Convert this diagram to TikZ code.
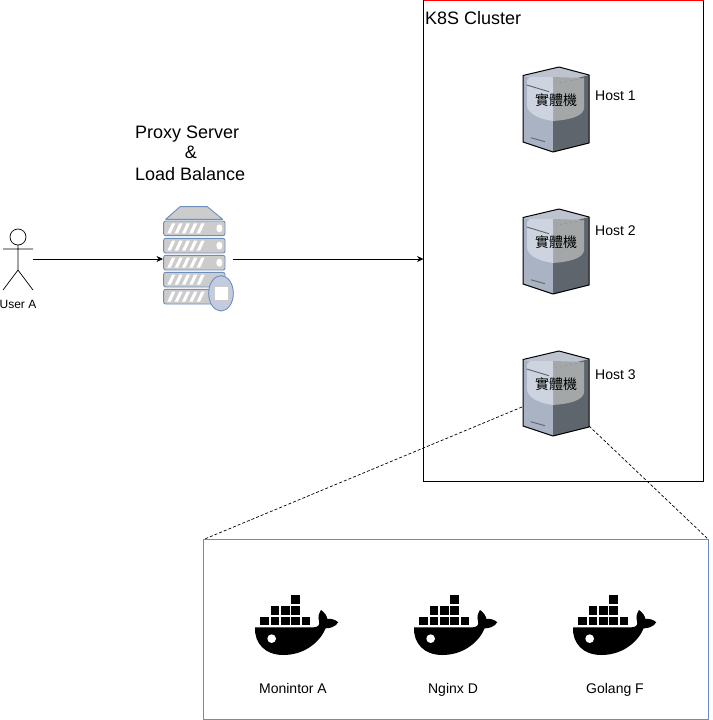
\documentclass[tikz,border=0pt]{standalone}
\usepackage{fontspec}
\usetikzlibrary{arrows.meta}
\setmainfont{Liberation Sans}
\newfontfamily\cjkfont{Noto Sans CJK TC}
\definecolor{edgeblue}{HTML}{6C8EBF}
\definecolor{barfill}{HTML}{CCCCCC}
\definecolor{hostleft}{HTML}{A9B3C4}
\definecolor{hosttop}{HTML}{BEC4CF}
\definecolor{hostright}{HTML}{5F656D}
\definecolor{hostlight}{HTML}{CDD3DF}
\definecolor{hostmid}{HTML}{A3A7A8}
\definecolor{badge}{HTML}{C3CCDF}
\tikzset{
  x=1pt,y=-1pt,
  anchorbox/.style={rectangle,draw=none,fill=none,inner sep=0pt,outer sep=0pt},
  framebox/.style={rectangle,draw=black,line width=0.6pt,inner sep=0pt,outer sep=0pt},
  label14/.style={font=\fontsize{14}{16}\selectfont,inner sep=0pt,anchor=base},
  labelhost/.style={font=\fontsize{14}{16}\selectfont,inner sep=0pt,anchor=base west},
  title18/.style={font=\fontsize{18}{20}\selectfont,inner sep=0pt},
  flow/.style={draw=black,line width=0.7pt,-{Stealth[length=6.5pt,width=6pt]}},
  zoomline/.style={draw=black,line width=0.7pt,dash pattern=on 3pt off 2pt},
  pics/hostserver/.style={code={
    \fill[hosttop] (0,8.5) -- (36,0) -- (66,8) -- (30,17) -- cycle;
    \fill[hostleft] (0,8.5) -- (30,17) -- (30,85) -- (0,75) -- cycle;
    \fill[hostright] (30,17) -- (66,8) -- (66,76) -- (30,85) -- cycle;
    \fill[hostmid] (30,17) -- (61,11) -- (61,42) .. controls (59,50) and (45,53) .. (30,54) -- cycle;
    \fill[hostlight] (7,10) -- (30,10) -- (30,54) .. controls (15,52) and (4,46) .. (4,38) -- (4,13) -- cycle;
    \fill[hostmid] (30,10) -- (61,11) -- (30,17) -- cycle;
    \draw[line width=1pt,black,line join=round] (0,8.5) -- (36,0) -- (66,8) -- (66,76) -- (30,85) -- (0,75) -- cycle;
    \draw[line width=0.9pt,hostright] (3.7,18) -- (26,24.7);
    \draw[line width=0.9pt,hostright] (7.7,70.7) -- (22,74.7);
    \node[inner sep=0pt,font=\cjkfont\fontsize{14}{16}\selectfont] at (33,33.5) {實體機};
  }},
  pics/proxyicon/.style={code={
    \begin{scope}[scale=1/3]
      \draw[edgeblue,fill=barfill,line width=0.9pt,line join=round] (90,35) -- (172,35) -- (218,73) -- (47,73) -- cycle;
      \foreach \yy in {78,130,181,232,283}{
        \draw[edgeblue,fill=barfill,line width=0.9pt,rounded corners=2pt] (41,\yy) rectangle (225,\yy+44);
        \foreach \xx in {52,74,96,118,140}
          \fill[white] (\xx,\yy+37) -- (\xx+10,\yy+37) -- (\xx+24,\yy+7) -- (\xx+14,\yy+7) -- cycle;
        \fill[white] (208,\yy+22) ellipse [x radius=9,y radius=12];
      }
      \draw[edgeblue,fill=badge,line width=0.9pt] (213,295) ellipse [x radius=37,y radius=53];
      \draw[barfill,fill=white,line width=1.2pt] (192,274) rectangle (235,318);
    \end{scope}
  }},
  pics/whale/.style={code={
    \begin{scope}[scale=1/3]
      \foreach \xx in {45,77,108,139,170} \fill[black] (\xx-0.5,94.5) rectangle (\xx+26,119);
      \foreach \xx in {77,108,139} \fill[black] (\xx-0.5,63) rectangle (\xx+26,88.5);
      \fill[black] (138.5,31) rectangle (165,56.5);
      \fill[black] (30,127) -- (205,127)
        .. controls (218,127) and (226,120) .. (222,108)
        .. controls (218,95) and (222,85) .. (228,75)
        .. controls (238,82) and (246,92) .. (247,102)
        .. controls (258,100) and (272,104) .. (280,112)
        .. controls (270,126) and (255,130) .. (242,130)
        .. controls (225,170) and (180,210) .. (115,210)
        .. controls (60,210) and (28,175) .. (30,127) -- cycle;
      \fill[white] (80,161) circle (13);
    \end{scope}
  }}
}
\begin{document}
\begin{tikzpicture}
\useasboundingbox (0,0) rectangle (712,720);
\fill[white] (0,0) rectangle (712,720);

% cluster frame
\node[framebox,minimum width=280pt,minimum height=481pt] (cluster) at (563.5,241) {};
\draw[red,line width=0.7pt] (cluster.north west) -- (cluster.north east);
\node[title18,anchor=base west] (clustertitle) at (425,24) {K8S Cluster};

% hosts
\foreach \nm/\yy/\ly/\txt in {hosta/67/100/Host 1,hostb/209/235/Host 2,hostc/351/379/Host 3}{
  \node[anchorbox,minimum width=66pt,minimum height=85pt] (\nm) at (556,\yy+42.5) {};
  \pic at (523,\yy) {hostserver};
  \node[labelhost] (\nm label) at (595,\ly) {\txt};
}

% user
\node[anchorbox,minimum width=30pt,minimum height=61pt] (user) at (18,259) {};
\draw[black,line width=0.7pt] (18,237) circle (8);
\draw[black,line width=0.7pt] (18,245) -- (18,270) (3,249) -- (33,249) (3,290) -- (18,270) -- (33,290);
\node[inner sep=0pt,font=\fontsize{12}{14}\selectfont] (userlabel) at (18,304) {User A};

% proxy
\node[anchorbox,minimum width=70pt,minimum height=106pt] (proxy) at (198,259) {};
\pic at (150,195) {proxyicon};
\node[title18,anchor=base west] (proxyone) at (135,138.5) {Proxy Server};
\node[title18,anchor=base] (proxyamp) at (191,158.5) {\&};
\node[title18,anchor=base west] (proxytwo) at (135,180) {Load Balance};

% connectors
\draw[flow] (user.east) -- (proxy.west);
\draw[flow] (proxy.east) -- (proxy.east -| cluster.west);

% zoom box
\node[rectangle,draw=edgeblue,line width=0.7pt,inner sep=0pt,outer sep=0pt,minimum width=505pt,minimum height=180pt] (detail) at (456,629.5) {};
\coordinate (hostcleft) at (522,407);
\coordinate (hostcright) at (589,426);
\draw[zoomline] (hostcleft) -- (detail.north west);
\draw[zoomline] (hostcright) -- (detail.north east);

% containers
\foreach \nm/\dx/\lx/\txt in {conta/0/293/Monintor A,contb/159/453/Nginx D,contc/318/615/Golang F}{
  \pic at (245+\dx,585) {whale};
  \node[label14] (\nm) at (\lx,693) {\txt};
}
\end{tikzpicture}
\end{document}
